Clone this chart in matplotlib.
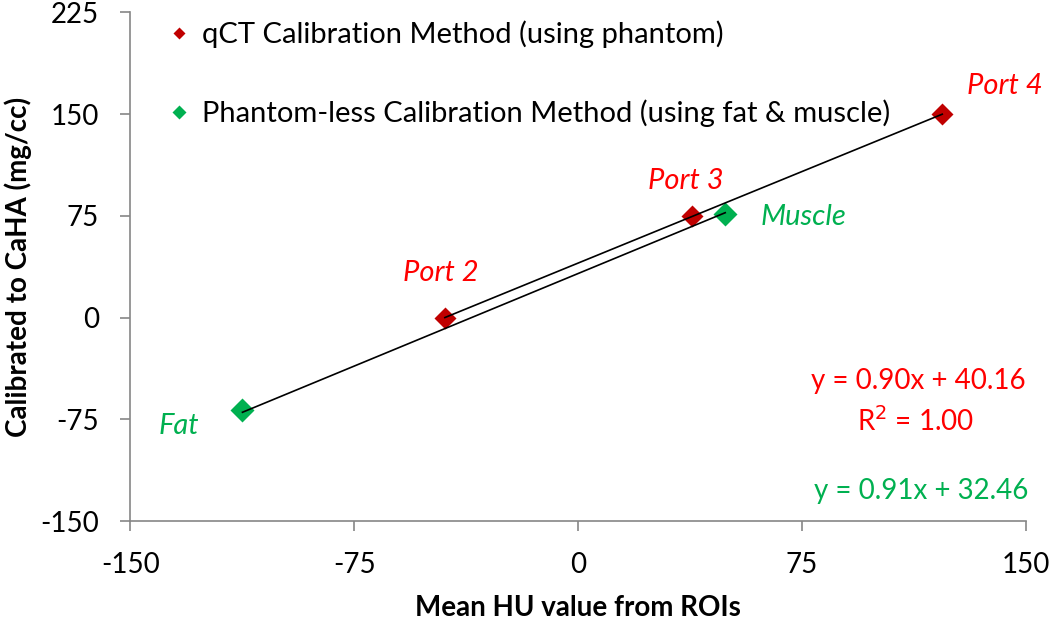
import matplotlib
matplotlib.use("Agg")
import matplotlib.pyplot as plt
import numpy as np

plt.rcParams['font.family'] = ['Lato', 'DejaVu Sans']
plt.rcParams['axes.unicode_minus'] = False

# data
port_names = ['Port 2', 'Port 3', 'Port 4']
port_hu = [-44.6, 38.3, 122.0]
port_caha = [0, 75, 150]

tissue_names = ['Fat', 'Muscle']
tissue_hu = [-112.4, 49.3]
tissue_caha = [-68.5, 76.6]

fit_red = (0.90, 40.16)
fit_green = (0.91, 32.46)

x_ticks = [-150, -75, 0, 75, 150]
y_ticks = [-150, -75, 0, 75, 150, 225]

dark_red = '#C00000'
green = '#00B050'
txt_red = '#FF0000'
spine_grey = '#868686'

fig, ax = plt.subplots(figsize=(10.5, 6.21), dpi=100)
fig.subplots_adjust(left=0.124, right=0.977, top=0.980, bottom=0.161)

# trendlines
xr = np.array([min(port_hu), max(port_hu)])
ax.plot(xr, fit_red[0] * xr + fit_red[1], color='black', lw=1.2, zorder=2)
xg = np.array([min(tissue_hu), max(tissue_hu)])
ax.plot(xg, fit_green[0] * xg + fit_green[1], color='black', lw=1.2, zorder=2)

ax.plot(port_hu, port_caha, 'D', color=dark_red, ms=11.5, mec='none', zorder=1,
        label='qCT Calibration Method (using phantom)')
ax.plot(tissue_hu, tissue_caha, 'D', color=green, ms=12.5, mec='none', zorder=1,
        label='Phantom-less Calibration Method (using fat & muscle)')

# point labels
fs = 21
ax.text(-46, 33, 'Port 2', color=txt_red, style='italic', fontsize=fs, ha='center', va='center')
ax.text(36, 101, 'Port 3', color=txt_red, style='italic', fontsize=fs, ha='center', va='center')
ax.text(143, 171, 'Port 4', color=txt_red, style='italic', fontsize=fs, ha='center', va='center',
        clip_on=False)
ax.text(61, 74, 'Muscle', color=green, style='italic', fontsize=fs, ha='left', va='center')
ax.text(-133.6, -80, 'Fat', color=green, style='italic', fontsize=fs, ha='center', va='center')

ax.text(114, -47, 'y = %.2fx + %.2f' % fit_red, color=txt_red, fontsize=20, ha='center', va='center')
ax.text(113, -76, 'R$^2$ = 1.00', color=txt_red, fontsize=20, ha='center', va='center')
ax.text(115, -128, 'y = %.2fx + %.2f' % fit_green, color=green, fontsize=20, ha='center', va='center')

ax.set_xlim(-150, 150)
ax.set_ylim(-150, 225)
ax.set_xticks(x_ticks)
ax.set_yticks(y_ticks)
ax.tick_params(labelsize=20, colors=spine_grey, labelcolor='black', length=7.5, width=1.2, pad=15)
for s in ['top', 'right']:
    ax.spines[s].set_visible(False)
for s in ['left', 'bottom']:
    ax.spines[s].set_color(spine_grey)
    ax.spines[s].set_linewidth(1.2)

ax.set_xlabel('Mean HU value from ROIs', fontsize=20, fontweight='bold')
ax.set_ylabel('Calibrated to CaHA (mg/cc)', fontsize=20, fontweight='bold')
ax.xaxis.set_label_coords(0.5, -0.145)
ax.yaxis.set_label_coords(-0.11, 0.5)

leg = ax.legend(loc='upper left', bbox_to_anchor=(0.015, 1.035), frameon=False, fontsize=fs,
                markerscale=0.55, handlelength=0.6, handletextpad=0.5, labelspacing=1.75)

fig.savefig('out.png', dpi=100)
